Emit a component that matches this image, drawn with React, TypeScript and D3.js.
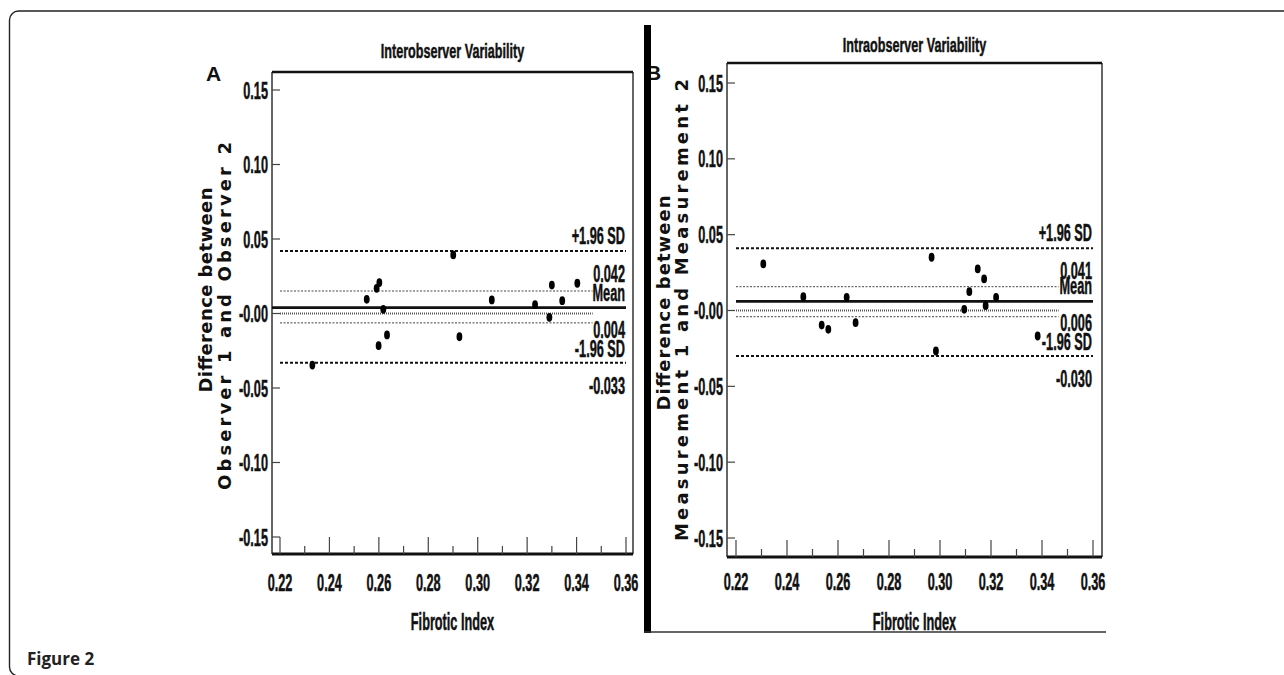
import React from "react";
import * as d3 from "d3";

// ---------- data ----------
const xTickValues = [0.22, 0.24, 0.26, 0.28, 0.3, 0.32, 0.34, 0.36];
const xTickLabels = ["0.22", "0.24", "0.26", "0.28", "0.30", "0.32", "0.34", "0.36"];
const xMinorTicks = [0.23, 0.25, 0.27, 0.29, 0.31, 0.33, 0.35];
const yTickValues = [0.15, 0.1, 0.05, 0, -0.05, -0.1, -0.15];
const yTickLabels = ["0.15", "0.10", "0.05", "-0.00", "-0.05", "-0.10", "-0.15"];

// Panel A: Interobserver
const interX = [0.2331, 0.2551, 0.2591, 0.2602, 0.2618, 0.2599, 0.2633, 0.2901, 0.2926, 0.3057, 0.3232, 0.329, 0.33, 0.3342, 0.3403];
const interY = [-0.0346, 0.0095, 0.0169, 0.0207, 0.0028, -0.0216, -0.0144, 0.0393, -0.0156, 0.0091, 0.0059, -0.0026, 0.0191, 0.0086, 0.0203];
const interLimits = { upper: 0.042, mean: 0.004, lower: -0.033, ciUpper: 0.0151, ciLower: -0.0063 };
const interLimitLabels = ["0.042", "0.004", "-0.033"];

// Panel B: Intraobserver
const intraX = [0.2307, 0.2464, 0.2536, 0.2562, 0.2634, 0.2669, 0.2967, 0.2984, 0.3095, 0.3115, 0.3148, 0.3173, 0.3179, 0.322, 0.3383];
const intraY = [0.0307, 0.0091, -0.0096, -0.0124, 0.0087, -0.008, 0.0351, -0.0267, 0.0008, 0.0124, 0.0274, 0.0208, 0.0032, 0.0087, -0.0168];
const intraLimits = { upper: 0.041, mean: 0.006, lower: -0.03, ciUpper: 0.0157, ciLower: -0.0041 };
const intraLimitLabels = ["0.041", "0.006", "-0.030"];

const COND = "Liberation Sans, Arial, sans-serif";

function CText({ x, y, anchor = "start", size = 24, sx = 0.53, children }: any) {
  return (
    <text
      transform={`translate(${x},${y}) scale(${sx},1)`}
      textAnchor={anchor}
      fontFamily={COND}
      fontWeight="bold"
      fontSize={size}
      fill="#111"
      stroke="#111"
      strokeWidth={0.5}
    >
      {children}
    </text>
  );
}

function Panel({ L, title, letter, yLab1, yLab2, xs, ys, lim, limLabels }: any) {
  const x = d3.scaleLinear().domain([0.22, 0.36]).range([L.x022, L.x036]);
  const y = d3.scaleLinear().domain([-0.15, 0.15]).range([L.ym15, L.y15]);
  const xEnd = 0.36;
  const ciEnd = 0.3465;
  const labelX = x(0.36) - 1;
  return (
    <g>
      {/* title */}
      <CText x={(L.left + L.right) / 2} y={L.titleY} anchor="middle" size={21} sx={0.6}>{title}</CText>
      {/* panel letter */}
      <text x={L.letterX} y={L.letterY} fontFamily={COND} fontWeight="bold" fontSize={21} fill="#111">{letter}</text>
      {/* plot frame */}
      <line x1={L.left} x2={L.left} y1={L.top} y2={L.bottom} stroke="#333" strokeWidth={1.5} />
      <line x1={L.right} x2={L.right} y1={L.top} y2={L.bottom} stroke="#333" strokeWidth={1.5} />
      <line x1={L.left} x2={L.right} y1={L.top} y2={L.top} stroke="#111" strokeWidth={2.5} />
      <line x1={L.left} x2={L.right} y1={L.bottom} y2={L.bottom} stroke="#111" strokeWidth={3} />
      {/* y ticks */}
      {yTickValues.map((v, i) => (
        <g key={"yt" + i}>
          <line x1={L.left} x2={L.left + 8} y1={y(v)} y2={y(v)} stroke="#444" strokeWidth={1.2} />
          <CText x={L.left - 4} y={y(v) + 8.5} anchor="end">{yTickLabels[i]}</CText>
        </g>
      ))}
      {/* x ticks */}
      {xTickValues.map((v, i) => (
        <g key={"xt" + i}>
          <line x1={x(v)} x2={x(v)} y1={L.bottom} y2={L.bottom - 17} stroke="#444" strokeWidth={1.2} />
          <CText x={x(v)} y={L.xLabY} anchor="middle">{xTickLabels[i]}</CText>
        </g>
      ))}
      {xMinorTicks.map((v, i) => (
        <line key={"xm" + i} x1={x(v)} x2={x(v)} y1={L.bottom} y2={L.bottom - 8} stroke="#444" strokeWidth={1.2} />
      ))}
      {/* axis titles */}
      <CText x={(L.left + L.right) / 2} y={L.xTitleY} anchor="middle">Fibrotic Index</CText>
      <text
        transform={`translate(${L.yl1x},${L.yl1y}) rotate(-90)`}
        textAnchor="middle"
        fontFamily="DejaVu Sans, Verdana, sans-serif"
        fontWeight="bold"
        fontSize={18}
        fill="#111"
        textLength={L.yl1len}
        lengthAdjust="spacing"
      >
        {yLab1}
      </text>
      <text
        transform={`translate(${L.yl2x},${L.yl2y}) rotate(-90)`}
        textAnchor="middle"
        fontFamily="DejaVu Sans, Verdana, sans-serif"
        fontWeight="bold"
        fontSize={18}
        fill="#111"
        textLength={L.yl2len}
        lengthAdjust="spacing"
      >
        {yLab2}
      </text>
      {/* CI and equality lines */}
      <line x1={x(0.22)} x2={x(ciEnd)} y1={y(lim.ciUpper)} y2={y(lim.ciUpper)} stroke="#444" strokeWidth={1} strokeDasharray="2,1.5" />
      <line x1={x(0.22)} x2={x(ciEnd)} y1={y(0)} y2={y(0)} stroke="#555" strokeWidth={2} strokeDasharray="1,1" />
      <line x1={x(0.22)} x2={x(ciEnd)} y1={y(lim.ciLower)} y2={y(lim.ciLower)} stroke="#444" strokeWidth={1} strokeDasharray="2,1.5" />
      {/* limits of agreement */}
      <line x1={x(0.22)} x2={x(xEnd)} y1={y(lim.upper)} y2={y(lim.upper)} stroke="#111" strokeWidth={2} strokeDasharray="3,2" />
      <line x1={x(0.22)} x2={x(xEnd)} y1={y(lim.lower)} y2={y(lim.lower)} stroke="#111" strokeWidth={2} strokeDasharray="3,2" />
      <line x1={L.meanStart} x2={x(xEnd)} y1={y(lim.mean)} y2={y(lim.mean)} stroke="#111" strokeWidth={2.8} />
      {/* limit labels */}
      <CText x={labelX} y={y(lim.upper) - 7} anchor="end">+1.96 SD</CText>
      <CText x={labelX} y={y(lim.upper) + 31} anchor="end">{limLabels[0]}</CText>
      <CText x={labelX} y={y(lim.mean) - 7} anchor="end">Mean</CText>
      <CText x={labelX} y={y(lim.mean) + 30} anchor="end">{limLabels[1]}</CText>
      <CText x={labelX} y={y(lim.lower) - 6} anchor="end">-1.96 SD</CText>
      <CText x={labelX} y={y(lim.lower) + 31} anchor="end">{limLabels[2]}</CText>
      {/* points */}
      {xs.map((v: number, i: number) => (
        <ellipse key={"p" + i} cx={x(v)} cy={y(ys[i])} rx={2.9} ry={4.4} fill="#000" />
      ))}
    </g>
  );
}

const layoutA = {
  left: 272, right: 633, top: 72, bottom: 554,
  x022: 280, x036: 626, y15: 90, ym15: 537,
  titleY: 58, letterX: 206, letterY: 81, xLabY: 591, xTitleY: 630,
  yl1x: 212, yl1y: 290, yl1len: 205,
  yl2x: 231, yl2y: 316, yl2len: 348,
  meanStart: 272,
};
const layoutB = {
  left: 727, right: 1102, top: 63, bottom: 557,
  x022: 736, x036: 1093, y15: 83, ym15: 538,
  titleY: 52, letterX: 646, letterY: 80, xLabY: 590, xTitleY: 630,
  yl1x: 670, yl1y: 303, yl1len: 215,
  yl2x: 688, yl2y: 310, yl2len: 462,
  meanStart: 736,
};

export default function App() {
  return (
    <svg
      width={1284}
      height={675}
      style={{ position: "absolute", left: 0, top: 0, background: "#fff" }}
    >
      <rect x={0} y={0} width={1284} height={675} fill="#fff" />
      {/* outer frame */}
      <rect x={9.5} y={11} width={1400} height={665} rx={9} ry={9} fill="none" stroke="#222" strokeWidth={1.4} />
      <Panel
        L={layoutA}
        title="Interobserver Variability"
        letter="A"
        yLab1="Difference between"
        yLab2="Observer 1 and Observer 2"
        xs={interX}
        ys={interY}
        lim={interLimits}
        limLabels={interLimitLabels}
      />
      <Panel
        L={layoutB}
        title="Intraobserver Variability"
        letter="B"
        yLab1="Difference between"
        yLab2="Measurement 1 and Measurement 2"
        xs={intraX}
        ys={intraY}
        lim={intraLimits}
        limLabels={intraLimitLabels}
      />
      {/* separator bar and panel B bottom border */}
      <rect x={644} y={25} width={7} height={608} fill="#000" />
      <line x1={644} x2={1106} y1={632} y2={632} stroke="#333" strokeWidth={1.5} />
      {/* caption */}
      <text x={27} y={665} fontFamily="Open Sans, sans-serif" fontWeight="bold" fontSize={17} fill="#222">Figure 2</text>
    </svg>
  );
}
